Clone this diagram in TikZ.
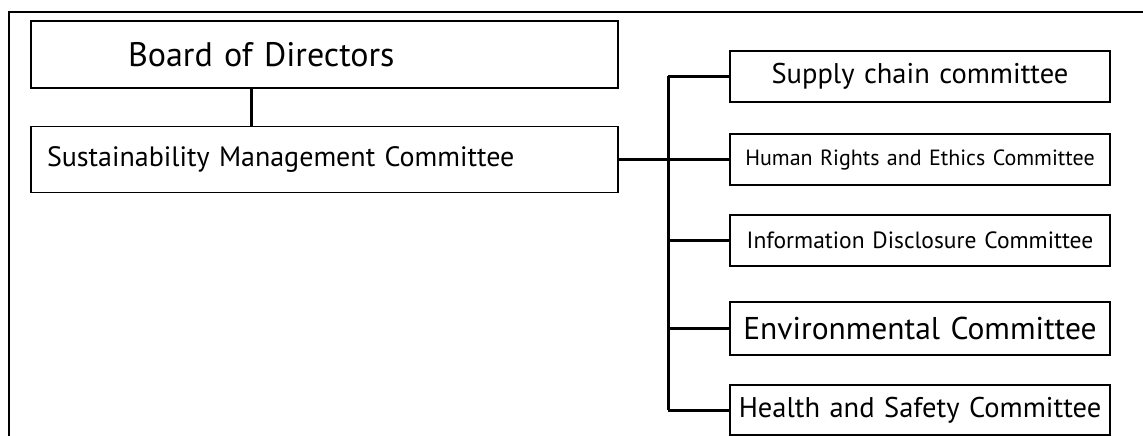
\documentclass[tikz,border=0pt]{standalone}
\usepackage{fontspec}
\setmainfont{PT Sans}
\usepackage{tikz}

\begin{document}
\begin{tikzpicture}[x=1pt,y=-1pt]
\tikzstyle{every node}+=[inner sep=0pt]
\tikzstyle{box}=[draw=black, line width=1.3pt, minimum height=51pt, text width=#1, align=center]
\tikzstyle{wide}=[draw=black, line width=1.3pt, inner xsep=16pt, text width=555pt, align=left]
\tikzstyle{link}=[black, line width=3pt]
\useasboundingbox (0,0) rectangle (1143,436);
% outer frame, open to the right and below
\draw [black, line width=1.3pt] (1150,12) -- (9,12);
\draw [black, line width=2.2pt] (9,11.4) -- (9,440);
% left column
\node [wide, minimum height=67pt, font=\fontsize{34}{40}\selectfont] (board) at (324.5,54.5) {\hspace*{81pt}Board of Directors};
\node [wide, minimum height=66pt, font=\fontsize{28}{33}\selectfont] (smc) at (324.5,159.5) {Sustainability Management Committee};
\coordinate (trunk) at (251,0);
\draw [link] (board.south -| trunk) -- (smc.north -| trunk);
% right column
\node [box=380pt, font=\fontsize{28.5}{34}\selectfont] (supply) at (920,76.5) {Supply chain committee};
\node [box=380pt, font=\fontsize{22}{26}\selectfont] (rights) at (920,159.5) {Human Rights and Ethics Committee};
\node [box=380pt, font=\fontsize{23.5}{28}\selectfont] (disclose) at (920,240.5) {Information Disclosure Committee};
\node [box=380pt, minimum height=53pt, font=\fontsize{31.5}{37}\selectfont] (environ) at (920,328.5) {Environmental Committee};
\node [box=380pt, minimum height=50pt, font=\fontsize{28.5}{34}\selectfont] (health) at (920,410) {Health and Safety Committee};
% bus
\coordinate (bus) at (668,0);
\draw [link] (supply.west -| bus) -- (health.west -| bus);
\draw [link] (smc.east) -- (smc.east -| bus);
\foreach \b in {supply,rights,disclose,environ,health}
  \draw [link] (\b.west) -- (\b.west -| bus);
\end{tikzpicture}
\end{document}
